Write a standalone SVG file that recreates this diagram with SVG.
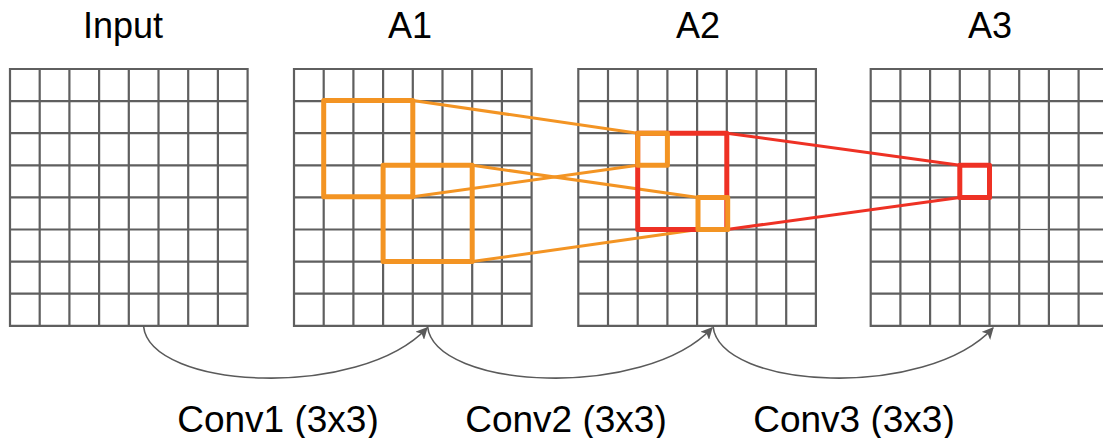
<svg xmlns="http://www.w3.org/2000/svg" xmlns:xlink="http://www.w3.org/1999/xlink" width="1103" height="438" viewBox="0 0 1103 438">
  <style>
    .grid { fill: none; stroke: #5f5f5f; stroke-width: 2.2; stroke-linecap: square; }
    .title { font-family: "Liberation Sans", Arial, sans-serif; font-size: 36px; fill: #000; text-anchor: middle; }
    .label { font-family: "Liberation Sans", Arial, sans-serif; font-size: 37px; fill: #000; text-anchor: middle; }
    .obox { fill: none; stroke: #F39423; stroke-width: 5; stroke-linejoin: round; }
    .rbox { fill: none; stroke: #EE3124; stroke-width: 5; stroke-linejoin: round; }
    .oline { stroke: #F39423; stroke-width: 3; fill: none; }
    .rline { stroke: #EE3124; stroke-width: 3; fill: none; }
    .arc { fill: none; stroke: #5a5a5a; stroke-width: 1.6; }
  </style>
  <defs>
    <path id="gridpath" class="grid" d="M0 0V256.8M29.7 0V256.8M59.4 0V256.8M89.1 0V256.8M118.8 0V256.8M148.5 0V256.8M178.2 0V256.8M207.9 0V256.8M237.6 0V256.8M0 0H237.6M0 32.1H237.6M0 64.2H237.6M0 96.3H237.6M0 128.4H237.6M0 160.5H237.6M0 192.6H237.6M0 224.7H237.6M0 256.8H237.6"/>
    <marker id="arrow" viewBox="0 0 10 10" refX="9" refY="5" markerWidth="12" markerHeight="12" markerUnits="userSpaceOnUse" orient="auto">
      <path d="M0 0L10 5L0 10L2.5 5Z" fill="#5a5a5a"/>
    </marker>
  </defs>

  <g id="input">
    <text class="title" x="123" y="38">Input</text>
    <use xlink:href="#gridpath" href="#gridpath" x="10" y="69"/>
  </g>

  <g id="a1">
    <text class="title" x="410" y="38">A1</text>
    <use xlink:href="#gridpath" href="#gridpath" x="294" y="69"/>
  </g>

  <g id="a2">
    <text class="title" x="698" y="38">A2</text>
    <use xlink:href="#gridpath" href="#gridpath" x="578.3" y="69"/>
  </g>

  <g id="a3">
    <text class="title" x="990" y="38">A3</text>
    <use xlink:href="#gridpath" href="#gridpath" x="870.7" y="69"/>
    <line x1="1020.5" y1="229.5" x2="1047.6" y2="229.5" stroke="#ffffff" stroke-width="2.4"/>
    <line x1="1020.5" y1="229.5" x2="1047.6" y2="229.5" stroke="#5f5f5f" stroke-width="1"/>
  </g>

  <g id="connectors">
    <line class="oline" x1="412.8" y1="100.5" x2="637.7" y2="133.2"/>
    <line class="oline" x1="412.8" y1="196.8" x2="637.7" y2="165.3"/>
    <line class="oline" x1="472.2" y1="165.3" x2="698" y2="197.4"/>
    <line class="oline" x1="472.2" y1="261.6" x2="698" y2="229.5"/>
    <line class="rline" x1="726.8" y1="133.2" x2="959.8" y2="165.3"/>
    <line class="rline" x1="726.8" y1="229.5" x2="959.8" y2="197.4"/>
    <path class="arc" d="M143.5 326 C150 390 360 400 427 328" marker-end="url(#arrow)"/>
    <path class="arc" d="M427.5 326 C434 390 645 400 712 328" marker-end="url(#arrow)"/>
    <path class="arc" d="M713 326 C719.5 390 927 400 993 328" marker-end="url(#arrow)"/>
  </g>

  <g id="receptive-fields">
    <rect class="obox" x="323.7" y="100.5" width="89.1" height="96.3"/>
    <rect class="obox" x="383.1" y="165.3" width="89.1" height="96.3"/>
    <rect class="rbox" x="637.7" y="133.2" width="89.1" height="96.3"/>
    <rect class="obox" x="637.7" y="133.2" width="29.7" height="32.1"/>
    <rect class="obox" x="698" y="197.4" width="29.7" height="32.1"/>
    <rect class="rbox" x="959.8" y="165.3" width="29.7" height="32.1"/>
  </g>

  <g id="labels">
    <text class="label" x="278" y="432">Conv1 (3x3)</text>
    <text class="label" x="566" y="432">Conv2 (3x3)</text>
    <text class="label" x="854" y="432">Conv3 (3x3)</text>
  </g>
</svg>
